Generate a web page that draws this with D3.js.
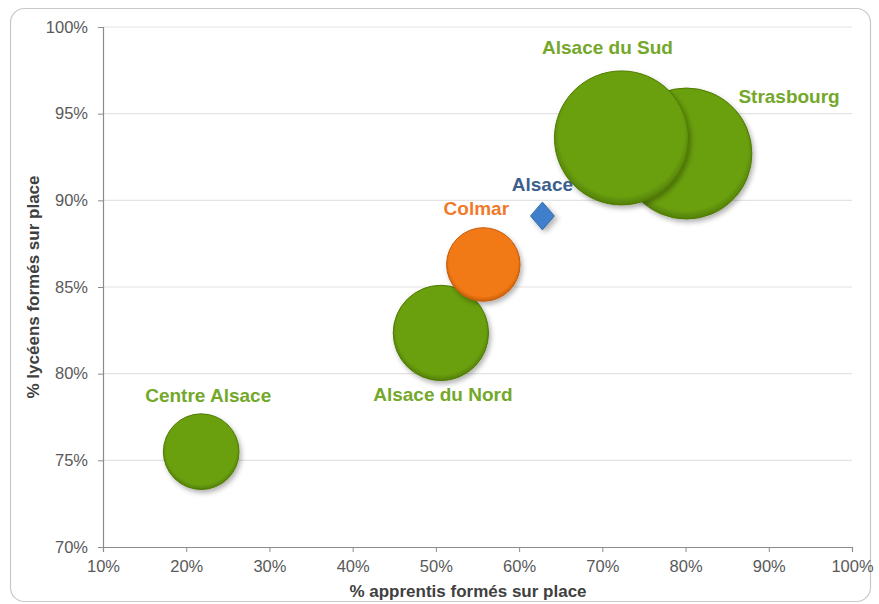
<!DOCTYPE html>
<html>
<head>
<meta charset="utf-8">
<script src="https://cdn.jsdelivr.net/npm/d3@7"></script>
<style>
  body { margin: 0; background: #fff; }
  svg { display: block; font-family: "Liberation Sans", Arial, sans-serif; }
</style>
</head>
<body>
<div id="chart"></div>
<script>
// data
const zones = ['Centre Alsace', 'Alsace du Nord', 'Colmar', 'Alsace du Sud', 'Strasbourg'];
const apprentis = [0.218, 0.506, 0.557, 0.723, 0.801];
const lyceens = [0.755, 0.8235, 0.863, 0.936, 0.927];
const effectifs = [1450, 2300, 1370, 4550, 4350];
const kinds = ['green', 'green', 'orange', 'green', 'green'];

const ref = { name: 'Alsace', x: 0.628, y: 0.891 };

const xTicks = [0.1, 0.2, 0.3, 0.4, 0.5, 0.6, 0.7, 0.8, 0.9, 1.0];
const yTicks = [0.70, 0.75, 0.80, 0.85, 0.90, 0.95, 1.00];

const W = 879, H = 604;
const margin = {t: 27, r: 27, b: 57, l: 103};
const w = W - margin.l - margin.r;
const h = H - margin.t - margin.b;

const svg = d3.select('#chart').append('svg')
  .attr('width', W)
  .attr('height', H);

const defs = svg.append('defs');

const palette = {
  green: {light: '#8cc021', mid: '#6ba00c', dark: '#4e7a04', text: '#74a82a'},
  orange: {light: '#ff9a3c', mid: '#f27a14', dark: '#c45a08', text: '#f07a2a'}
};

Object.keys(palette).forEach(k => {
  const g = defs.append('radialGradient')
    .attr('id', 'grad-' + k)
    .attr('cx', '50%').attr('cy', '47%').attr('r', '54%');
  g.append('stop').attr('offset', '0%').attr('stop-color', palette[k].mid);
  g.append('stop').attr('offset', '86%').attr('stop-color', palette[k].mid);
  g.append('stop').attr('offset', '100%').attr('stop-color', palette[k].dark);
});

const shadow = defs.append('filter').attr('id', 'shadow')
  .attr('x', '-20%').attr('y', '-20%').attr('width', '150%').attr('height', '150%');
shadow.append('feDropShadow')
  .attr('dx', 2).attr('dy', 3).attr('stdDeviation', 2.5)
  .attr('flood-color', '#000').attr('flood-opacity', 0.3);

// outer frame
svg.append('rect')
  .attr('x', 10.5).attr('y', 8.5)
  .attr('width', 860).attr('height', 593)
  .attr('rx', 14)
  .attr('fill', '#fff')
  .attr('stroke', '#c8c8c8')
  .attr('stroke-width', 1.2);

const plot = svg.append('g')
  .attr('transform', `translate(${margin.l},${margin.t})`);

const scaleX = d3.scaleLinear().domain([0.1, 1.0]).range([0, w]);
const scaleY = d3.scaleLinear().domain([0.7, 1.0]).range([h, 0]);
const scaleR = d3.scaleSqrt().domain([0, d3.max(effectifs)]).range([0, 67]);

// gridlines
plot.append('g')
  .selectAll('line')
  .data(yTicks.slice(1))
  .join('line')
  .attr('x1', 0).attr('x2', w)
  .attr('y1', d => scaleY(d)).attr('y2', d => scaleY(d))
  .attr('stroke', '#e3e3e3')
  .attr('stroke-width', 1.2);

const fmt = d3.format('.0%');

const axisX = d3.axisBottom(scaleX).tickValues(xTicks).tickFormat(fmt).tickSize(5).tickPadding(8);
const axisY = d3.axisLeft(scaleY).tickValues(yTicks).tickFormat(fmt).tickSize(5).tickPadding(10);

const gx = plot.append('g').attr('class', 'axis axis-x')
  .attr('transform', `translate(0,${h})`)
  .call(axisX);
const gy = plot.append('g').attr('class', 'axis axis-y')
  .call(axisY);

[gx, gy].forEach(g => {
  g.select('.domain').attr('stroke', '#8c8c8c').attr('stroke-width', 1.2);
  g.selectAll('.tick line').attr('stroke', '#8c8c8c');
  g.selectAll('.tick text')
    .attr('fill', '#595959')
    .style('font-size', '16.5px')
    .style('font-family', '"Liberation Sans", Arial, sans-serif');
});

// axis titles
svg.append('text')
  .attr('x', 468)
  .attr('y', 597)
  .attr('text-anchor', 'middle')
  .style('font-size', '17px')
  .style('font-weight', 'bold')
  .attr('fill', '#404040')
  .text('% apprentis formés sur place');

svg.append('text')
  .attr('transform', `translate(39,287) rotate(-90)`)
  .attr('text-anchor', 'middle')
  .style('font-size', '17px')
  .style('font-weight', 'bold')
  .attr('fill', '#404040')
  .text('% lycéens formés sur place');

// bubbles
const bubbles = zones.map((z, i) => ({
  name: z, x: apprentis[i], y: lyceens[i], size: effectifs[i], kind: kinds[i]
}));

// Strasbourg first so Alsace du Sud sits on top of it
const order = [4, 3, 1, 2, 0];
plot.append('g')
  .selectAll('circle')
  .data(order.map(i => bubbles[i]))
  .join('circle')
  .attr('cx', d => scaleX(d.x))
  .attr('cy', d => scaleY(d.y))
  .attr('r', d => scaleR(d.size))
  .attr('fill', d => `url(#grad-${d.kind})`)
  .attr('stroke', d => palette[d.kind].dark)
  .attr('stroke-width', 1)
  .attr('filter', 'url(#shadow)');

// diamond for Alsace
plot.append('path')
  .attr('d', d3.symbol().type(d3.symbolDiamond).size(260))
  .attr('transform', `translate(${scaleX(ref.x)},${scaleY(ref.y)}) scale(1.38,0.93)`)
  .attr('fill', '#3f7fcc')
  .attr('stroke', '#2a5f9e')
  .attr('stroke-width', 0.7)
  .attr('filter', 'url(#shadow)');

// labels (offsets relative to each bubble)
const labelPos = {
  'Centre Alsace': {dx: 7, dy: -50, anchor: 'middle'},
  'Alsace du Nord': {dx: 2, dy: 68, anchor: 'middle'},
  'Colmar': {dx: -7, dy: -49.5, anchor: 'middle'},
  'Alsace du Sud': {dx: -14, dy: -84, anchor: 'middle'},
  'Strasbourg': {dx: 52, dy: -50.5, anchor: 'start'}
};

plot.append('g')
  .selectAll('text')
  .data(bubbles)
  .join('text')
  .attr('x', d => scaleX(d.x) + labelPos[d.name].dx)
  .attr('y', d => scaleY(d.y) + labelPos[d.name].dy)
  .attr('text-anchor', d => labelPos[d.name].anchor)
  .style('font-size', '19px')
  .style('font-weight', 'bold')
  .attr('fill', d => palette[d.kind].text)
  .text(d => d.name);

plot.append('text')
  .attr('x', scaleX(ref.x))
  .attr('y', scaleY(ref.y) - 25)
  .attr('text-anchor', 'middle')
  .style('font-size', '19px')
  .style('font-weight', 'bold')
  .attr('fill', '#3c5f8c')
  .text(ref.name);
</script>
</body>
</html>
